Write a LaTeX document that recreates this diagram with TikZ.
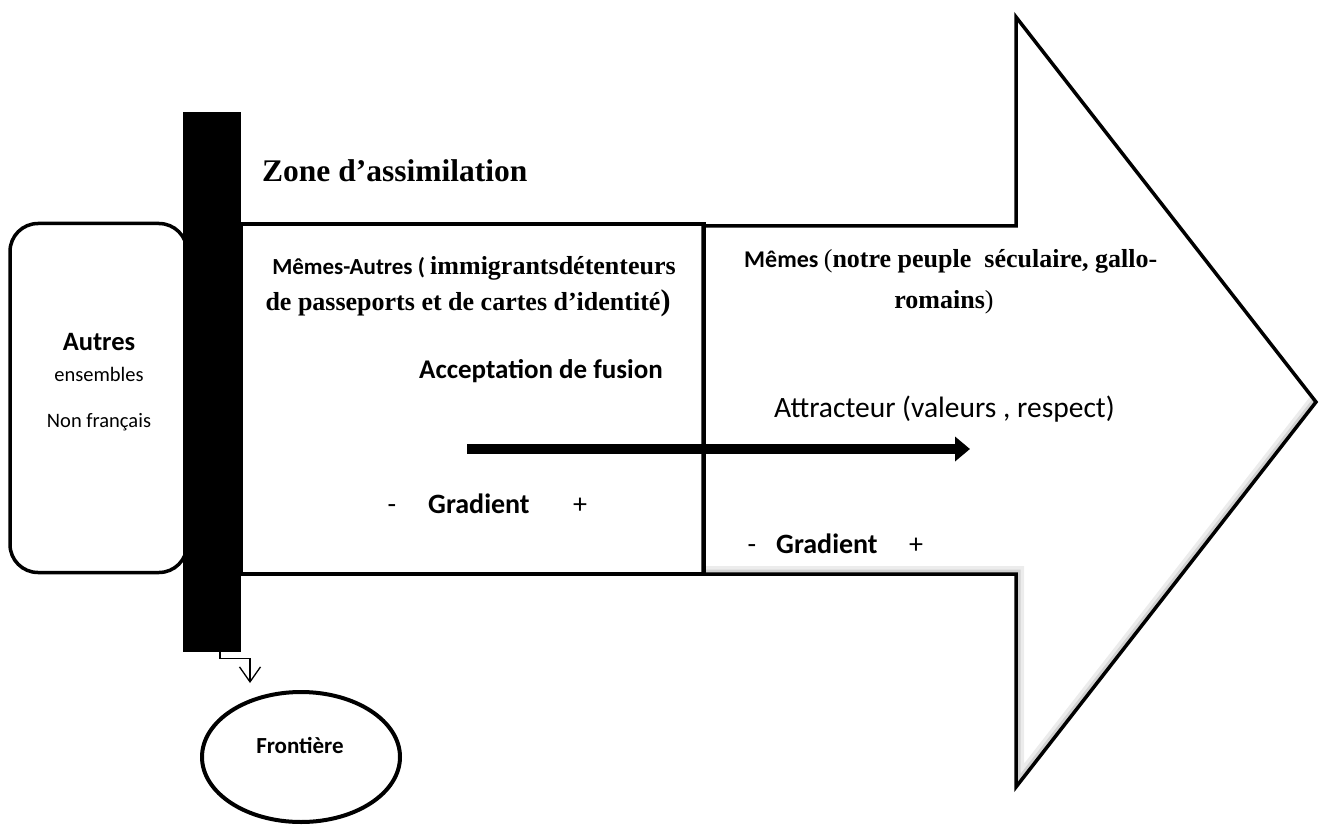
\documentclass[tikz,border=0pt]{standalone}
\usepackage{fontspec}
\setmainfont{Carlito}
\newfontfamily\garamondfont{Liberation Serif}
\usetikzlibrary{arrows.meta,shapes.geometric}

\newcommand{\cgras}[1]{\bfseries\fontsize{#1}{#1}\selectfont}
\newcommand{\cnorm}[1]{\mdseries\fontsize{#1}{#1}\selectfont}
\newcommand{\sgras}[1]{\garamondfont\bfseries\fontsize{#1}{#1}\selectfont}
\newcommand{\snorm}[1]{\garamondfont\mdseries\fontsize{#1}{#1}\selectfont}

\tikzset{
	trait/.style={black, line width=3.5pt},
	ombre/.style={line width=#1, line join=miter},
}

\begin{document}
\begin{tikzpicture}[x=1pt,y=-1pt]
	\tikzstyle{every node}+=[inner sep=0pt]
	\useasboundingbox (0,0) rectangle (1319,826);
	% grande fleche
	\begin{scope}
		\clip (703,226) -- (1016,226) -- (1016,17) -- (1316,402) -- (1016,787) -- (1016,574) -- (703,574) -- cycle;
		\draw [ombre=16pt, gray!15] (703,574) -- (1016,574) -- (1016,787) -- (1316,402);
		\draw [ombre=9pt, gray!35] (703,574) -- (1016,574) -- (1016,787) -- (1316,402);
	\end{scope}
	\draw [trait, line join=miter] (703,226) -- (1016,226) -- (1016,17) -- (1316,402) -- (1016,787) -- (1016,574) -- (703,574) -- cycle;
	% zone d'assimilation
	\node [draw, trait, minimum width=463pt, minimum height=350pt] (assim) at (472.5,399) {};
	\node [draw, trait, rounded corners=28pt, minimum width=177pt, minimum height=349pt] (autres) at (98.5,398) {};
	\node [fill=black, minimum width=58pt, minimum height=540pt] (barre) at (212,382) {};
	\node [draw, ellipse, black, line width=4pt, minimum width=198pt, minimum height=130pt] (frontiere) at (301,757) {};
	% textes
	\node [anchor=base west] (zone) at (262,182) {\sgras{31.5}Zone d’assimilation};
	\node [anchor=base] (autrestitre) at (99,350) {\cgras{26.5}Autres};
	\node [anchor=base] (ensembles) at (99,381) {\cnorm{20.5}ensembles};
	\node [anchor=base] (nonfr) at (99,427) {\cnorm{20.5}Non français};
	\node [anchor=base] (frontieretexte) at (300,753) {\cgras{23}Frontière};
	\node [anchor=base] (memesautres) at (474,275) {\cgras{23}Mêmes-Autres ( \sgras{26}immigrantsdétenteurs};
	\node [anchor=base] (passeports) at (468,310) {\sgras{26}de passeports et de cartes d’identité\cgras{30})};
	\node [anchor=base] (acceptation) at (541,378) {\cgras{27}Acceptation de fusion};
	\node [anchor=base west] (memes) at (744,268) {\cgras{24}Mêmes \snorm{26}(\sgras{26}notre peuple\ \ séculaire, gallo-};
	\node [anchor=base] (romains) at (944,308) {\sgras{26}romains\snorm{26})};
	\node [anchor=base west] (attracteurtexte) at (774,417) {\cnorm{29.5}Attracteur (valeurs , respect)};
	\node [anchor=base] (moinsa) at (392,513) {\cnorm{28}-};
	\node [anchor=base west] (gradienta) at (428,513) {\cgras{28}Gradient};
	\node [anchor=base] (plusa) at (580,513) {\cnorm{28}+};
	\node [anchor=base] (moinsb) at (752,553) {\cnorm{28}-};
	\node [anchor=base west] (gradientb) at (776,553) {\cgras{28}Gradient};
	\node [anchor=base] (plusb) at (916,553) {\cnorm{28}+};
	% fleches
	\coordinate (depart) at (467,449);
	\coordinate (attracteur) at (970,449);
	\draw [line width=10.5pt, -{Triangle[length=15pt,width=24pt]}] (depart) -- (attracteur);
	\coordinate (pointe) at (250,683);
	\draw [line width=1.3pt, -{Straight Barb[length=15pt,width=21pt]}] ([xshift=8pt]barre.south) -- ++(0,6) -| (pointe);
\end{tikzpicture}
\end{document}
